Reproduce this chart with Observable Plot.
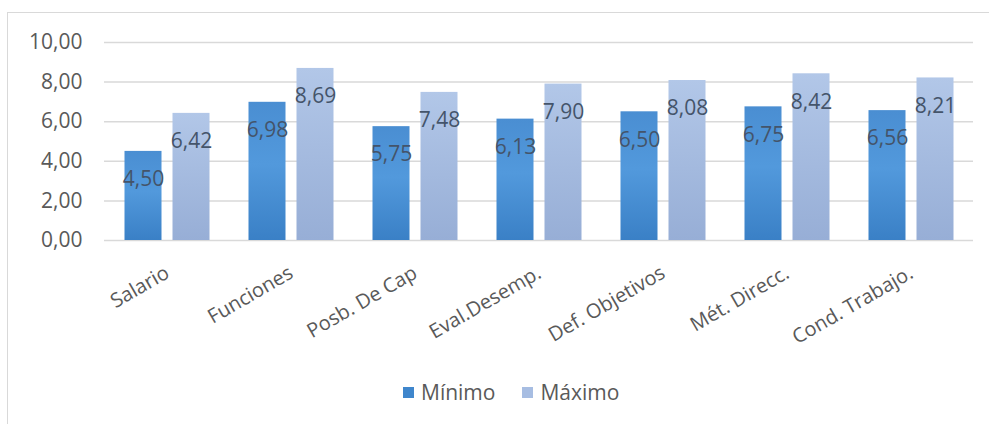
<!DOCTYPE html>
<html>
<head>
<meta charset="utf-8">
<script src="https://cdn.jsdelivr.net/npm/d3@7"></script>
<script src="https://cdn.jsdelivr.net/npm/@observablehq/plot@0.6"></script>
<style>
  html, body { margin: 0; padding: 0; background: #fff; }
  #frame {
    position: absolute; left: 7px; top: 12px; width: 990px; height: 420px;
    border-top: 1px solid #d9d9d9; border-left: 1px solid #d9d9d9;
  }
  #chart { position: absolute; left: 0; top: 0; }
  #legend {
    position: absolute; left: 403px; top: 381px; display: flex; align-items: center;
    font-family: "Open Sans", sans-serif; font-size: 21px; line-height: 22px; color: #595959;
  }
  #legend span.item { display: flex; align-items: center; }
  #legend span.item + span.item { margin-left: 27px; }
  #legend span.sw { display: inline-block; width: 11px; height: 11px; margin-right: 7px; }
</style>
</head>
<body>
<div id="frame"></div>
<div id="chart"></div>
<div id="legend"></div>
<script>
const categories = ["Salario", "Funciones", "Posb. De Cap", "Eval.Desemp.", "Def. Objetivos", "Mét. Direcc.", "Cond. Trabajo."];
const minimo = [4.50, 6.98, 5.75, 6.13, 6.50, 6.75, 6.56];
const maximo = [6.42, 8.69, 7.48, 7.90, 8.08, 8.42, 8.21];
const yTicks = [0, 2, 4, 6, 8, 10];
const seriesNames = ["Mínimo", "Máximo"];

const rowsMin = categories.map((c, i) => ({categoria: c, valor: minimo[i]}));
const rowsMax = categories.map((c, i) => ({categoria: c, valor: maximo[i]}));

const fmt = v => v.toFixed(2).replace(".", ",");
const font = "Open Sans, sans-serif";

const chart = Plot.plot({
  width: 989,
  height: 372,
  marginLeft: 104,
  marginRight: 16,
  marginTop: 42,
  marginBottom: 132,
  style: {fontFamily: font, background: "transparent"},
  x: {domain: categories, padding: 0, label: null, axis: null},
  y: {domain: [0, 10], ticks: yTicks, label: null, tickSize: 0, tickPadding: 22, tickFormat: fmt},
  marks: [
    Plot.ruleY(yTicks, {stroke: "#d9d9d9", strokeWidth: 1.5, strokeOpacity: 1}),
    Plot.barY(rowsMin, {x: "categoria", y: "valor", fill: "url(#gradMin)", insetLeft: 19.5, insetRight: 67.5}),
    Plot.barY(rowsMax, {x: "categoria", y: "valor", fill: "url(#gradMax)", insetLeft: 67.5, insetRight: 19.5}),
    Plot.text(rowsMin, {x: "categoria", y: "valor", text: d => fmt(d.valor), dx: -24, dy: 28, fill: "#44546a", fontSize: 21}),
    Plot.text(rowsMax, {x: "categoria", y: "valor", text: d => fmt(d.valor), dx: 24, dy: 28, fill: "#44546a", fontSize: 21}),
    // rotated category labels, anchored at the end under each group
    Plot.text(categories, {x: d => d, text: d => d, frameAnchor: "bottom", rotate: -30,
      textAnchor: "end", lineAnchor: "top", dx: -4, dy: 24, fontSize: 20, fill: "#595959"})
  ]
});

// gradient fills for the two series
const svg = d3.select(chart);
const defs = svg.insert("defs", ":first-child");
const gMin = defs.append("linearGradient").attr("id", "gradMin").attr("x1", 0).attr("y1", 0).attr("x2", 0).attr("y2", 1);
gMin.append("stop").attr("offset", "0%").attr("stop-color", "#4a8ed2");
gMin.append("stop").attr("offset", "45%").attr("stop-color", "#5299dc");
gMin.append("stop").attr("offset", "100%").attr("stop-color", "#3a80c6");
const gMax = defs.append("linearGradient").attr("id", "gradMax").attr("x1", 0).attr("y1", 0).attr("x2", 0).attr("y2", 1);
gMax.append("stop").attr("offset", "0%").attr("stop-color", "#b2c7e8");
gMax.append("stop").attr("offset", "100%").attr("stop-color", "#97aed6");

svg.selectAll("g[aria-label='y-axis tick label'] text, g[aria-label='y-axis'] text")
  .attr("font-size", 21).attr("fill", "#595959");

document.getElementById("chart").appendChild(chart);

// legend
const legendColors = ["#3f86cc", "#a7bde2"];
const legend = document.getElementById("legend");
seriesNames.forEach((name, i) => {
  const item = document.createElement("span");
  item.className = "item";
  const sw = document.createElement("span");
  sw.className = "sw";
  sw.style.background = legendColors[i];
  item.appendChild(sw);
  item.appendChild(document.createTextNode(name));
  legend.appendChild(item);
});
</script>
</body>
</html>
